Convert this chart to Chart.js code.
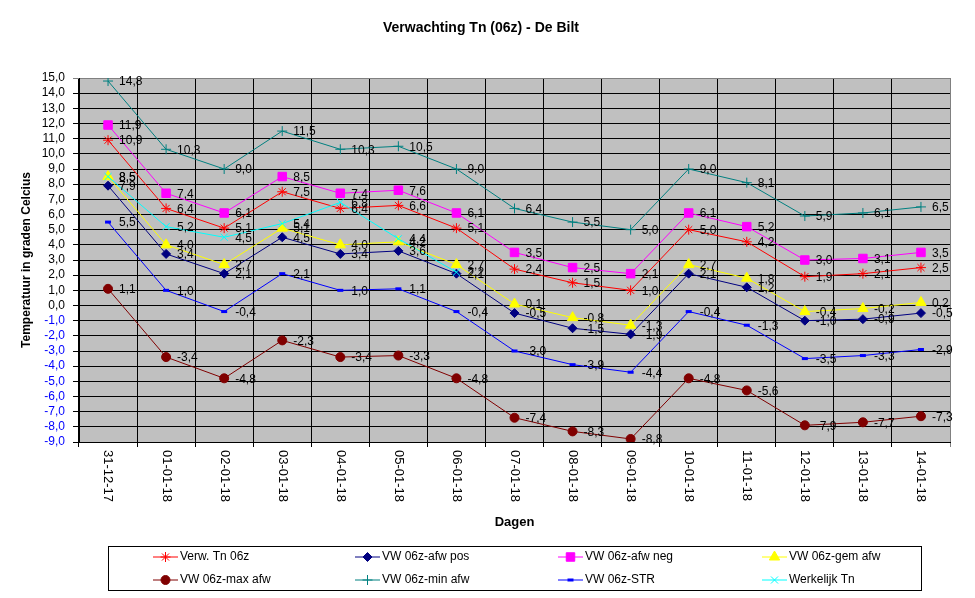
<!DOCTYPE html>
<html>
<head>
<meta charset="utf-8">
<script src="https://cdn.jsdelivr.net/npm/chart.js@4.4.1/dist/chart.umd.min.js"></script>
<style>
  html, body { margin: 0; padding: 0; background: #fff; }
  #wrap { width: 975px; height: 598px; position: relative; }
</style>
</head>
<body>
<div id="wrap"><canvas id="c"></canvas></div>
<script>
const days = ['31-12-17', '01-01-18', '02-01-18', '03-01-18', '04-01-18', '05-01-18', '06-01-18',
  '07-01-18', '08-01-18', '09-01-18', '10-01-18', '11-01-18', '12-01-18', '13-01-18', '14-01-18'];

const verwTn      = [10.9, 6.4, 5.1, 7.5, 6.4, 6.6, 5.1, 2.4, 1.5, 1.0, 5.0, 4.2, 1.9, 2.1, 2.5];
const afwPos      = [7.9, 3.4, 2.1, 4.5, 3.4, 3.6, 2.1, -0.5, -1.5, -1.9, 2.1, 1.2, -1.0, -0.9, -0.5];
const afwNeg      = [11.9, 7.4, 6.1, 8.5, 7.4, 7.6, 6.1, 3.5, 2.5, 2.1, 6.1, 5.2, 3.0, 3.1, 3.5];
const gemAfw      = [8.5, 4.0, 2.7, 5.1, 4.0, 4.2, 2.7, 0.1, -0.8, -1.3, 2.7, 1.8, -0.4, -0.2, 0.2];
const maxAfw      = [1.1, -3.4, -4.8, -2.3, -3.4, -3.3, -4.8, -7.4, -8.3, -8.8, -4.8, -5.6, -7.9, -7.7, -7.3];
const minAfw      = [14.8, 10.3, 9.0, 11.5, 10.3, 10.5, 9.0, 6.4, 5.5, 5.0, 9.0, 8.1, 5.9, 6.1, 6.5];
const strVw       = [5.5, 1.0, -0.4, 2.1, 1.0, 1.1, -0.4, -3.0, -3.9, -4.4, -0.4, -1.3, -3.5, -3.3, -2.9];
const werkelijkTn = [8.5, 5.2, 4.5, 5.4, 6.8, 4.4, 2.2, null, null, null, null, null, null, null, null];

const yMin = -9, yMax = 15;
const FONT = '"Liberation Sans", Arial, sans-serif';

const fmt = v => v.toFixed(1).replace('.', ',');

function series(label, data, color, pointStyle, radius, idx) {
  return {
    label, data,
    borderColor: color, backgroundColor: color,
    pointBackgroundColor: color, pointBorderColor: color,
    borderWidth: 1, pointStyle, pointRadius: radius, pointBorderWidth: 1,
    tension: 0, spanGaps: false,
    order: 8 - idx, // later series on top, like the original
  };
}

const datasets = [
  series('Verw. Tn 06z', verwTn, '#FF0000', 'star', 5, 0),
  series('VW 06z-afw pos', afwPos, '#000080', 'rectRot', 4.5, 1),
  series('VW 06z-afw neg', afwNeg, '#FF00FF', 'rect', 6, 2),
  series('VW 06z-gem afw', gemAfw, '#FFFF00', 'triangle', 6, 3),
  series('VW 06z-max afw', maxAfw, '#800000', 'circle', 4.5, 4),
  series('VW 06z-min afw', minAfw, '#008080', 'cross', 5, 5),
  series('VW 06z-STR', strVw, '#0000FF', 'line', 3, 6),
  series('Werkelijk Tn', werkelijkTn, '#00FFFF', 'crossRot', 5, 7),
];
datasets[6].pointBorderWidth = 3;

// grey plot area
const plotBg = {
  id: 'plotBg',
  beforeDraw(chart) {
    const { ctx, chartArea: a } = chart;
    ctx.save();
    ctx.fillStyle = '#C0C0C0';
    ctx.fillRect(a.left, a.top, a.right - a.left, a.bottom - a.top);
    ctx.restore();
  }
};

// value labels next to every point
const pointLabels = {
  id: 'pointLabels',
  afterDatasetsDraw(chart) {
    const ctx = chart.ctx;
    ctx.save();
    ctx.font = '12px ' + FONT;
    ctx.fillStyle = '#000';
    ctx.textAlign = 'left';
    ctx.textBaseline = 'middle';
    chart.data.datasets.forEach((ds, i) => {
      chart.getDatasetMeta(i).data.forEach((pt, j) => {
        const v = ds.data[j];
        if (v == null) return;
        ctx.fillText(fmt(v), pt.x + 11, pt.y + 1);
      });
    });
    ctx.restore();
  }
};

// x labels read top to bottom, Chart.js only rotates the other way
const xLabels = {
  id: 'xLabels',
  afterDraw(chart) {
    const ctx = chart.ctx;
    const sx = chart.scales.x;
    ctx.save();
    ctx.font = '13px ' + FONT;
    ctx.fillStyle = '#000';
    ctx.textAlign = 'left';
    ctx.textBaseline = 'middle';
    days.forEach((d, i) => {
      ctx.save();
      ctx.translate(sx.getPixelForValue(i), chart.chartArea.bottom + 8);
      ctx.rotate(Math.PI / 2);
      ctx.fillText(d, 0, 0);
      ctx.restore();
    });
    ctx.restore();
  }
};

// boxed legend, 4 columns x 2 rows
const boxLegend = {
  id: 'boxLegend',
  afterDraw(chart) {
    const ctx = chart.ctx;
    const cols = [153, 355, 558, 762];
    const rows = [557, 580];
    ctx.save();
    ctx.strokeStyle = '#000';
    ctx.lineWidth = 1;
    ctx.strokeRect(108.5, 546.5, 813, 44);
    ctx.font = '12px ' + FONT;
    ctx.textAlign = 'left';
    ctx.textBaseline = 'middle';
    chart.data.datasets.forEach((ds, i) => {
      const x = cols[i % 4], y = rows[Math.floor(i / 4)];
      ctx.strokeStyle = ds.borderColor;
      ctx.fillStyle = ds.borderColor;
      ctx.lineWidth = 1;
      ctx.beginPath();
      ctx.moveTo(x, y);
      ctx.lineTo(x + 25, y);
      ctx.stroke();
      if (Chart.helpers && Chart.helpers.drawPoint) {
        ctx.lineWidth = ds.pointBorderWidth;
        Chart.helpers.drawPoint(ctx, {
          pointStyle: ds.pointStyle, radius: ds.pointRadius, rotation: 0, borderWidth: ds.pointBorderWidth
        }, x + 12.5, y);
      }
      ctx.fillStyle = '#000';
      ctx.fillText(ds.label, x + 27, y);
    });
    ctx.restore();
  }
};

new Chart(document.getElementById('c'), {
  type: 'line',
  data: { labels: days, datasets },
  plugins: [plotBg, pointLabels, xLabels, boxLegend],
  options: {
    responsive: true,
    maintainAspectRatio: false,
    animation: false,
    layout: { padding: { left: 12, right: 25, top: 0, bottom: 68 } },
    plugins: {
      legend: { display: false },
      tooltip: { enabled: false },
      title: {
        display: true,
        text: 'Verwachting Tn (06z) - De Bilt',
        color: '#000',
        font: { family: FONT, size: 14, weight: 'bold' },
        padding: { top: 19.6, bottom: 41.6 },
      },
    },
    scales: {
      x: {
        offset: true,
        grid: {
          offset: true,
          color: c => c.type === 'tick' ? '#000' : '#808080',
          lineWidth: 1,
          tickLength: 5,
        },
        border: { color: '#000' },
        ticks: { display: false },
        title: {
          display: true, text: 'Dagen', color: '#000',
          font: { family: FONT, size: 13, weight: 'bold' },
          padding: { top: 0, bottom: 0 },
        },
        afterFit: s => { s.height = 88; },
      },
      y: {
        min: yMin, max: yMax,
        grid: {
          color: c => (c.tick && c.tick.value === yMax) ? '#808080' : '#000',
          lineWidth: 1,
          tickLength: 6,
        },
        border: { color: '#000' },
        ticks: {
          stepSize: 1,
          padding: 8,
          autoSkip: false,
          font: { family: FONT, size: 12 },
          color: c => c.tick.value < 0 ? '#0000FF' : '#000',
          callback: v => fmt(v),
        },
        title: {
          display: true, text: 'Temperatuur in graden Celcius', color: '#000',
          font: { family: FONT, size: 12, weight: 'bold' },
          padding: { top: 7.8, bottom: 0 },
        },
        afterFit: s => { s.width = 67; },
      },
    },
  },
});
</script>
</body>
</html>
